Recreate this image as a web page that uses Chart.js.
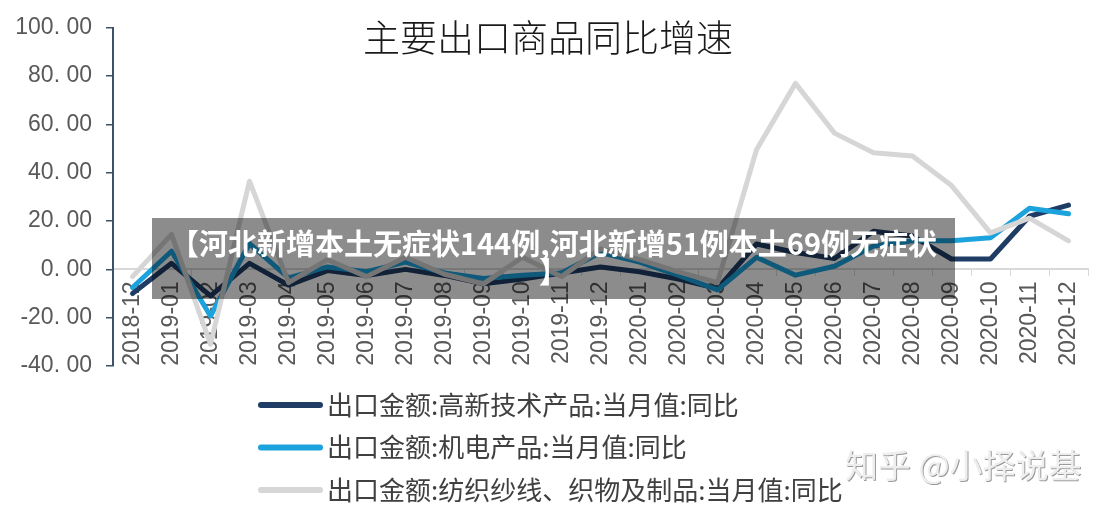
<!DOCTYPE html>
<html>
<head>
<meta charset="utf-8">
<script src="https://cdn.jsdelivr.net/npm/chart.js@4"></script>
<style>
  body { margin: 0; background: #fff; }
  #wrap { position: relative; width: 1110px; height: 518px; }
  #banner {
    position: absolute; left: 152px; top: 218px; width: 803px; height: 81px;
    box-sizing: border-box; padding-top: 10px;
    background: rgba(0, 0, 0, 0.45); color: #fff;
    font: bold 29px "Noto Sans CJK SC", sans-serif; line-height: 28px;
    text-align: center; white-space: nowrap;
  }
</style>
</head>
<body>
<div id="wrap">
  <canvas id="exportChart" width="1110" height="518"></canvas>
  <div id="banner">【河北新增本土无症状144例,河北新增51例本土69例无症状<br>】</div>
</div>
<script>
// months on the x axis
var months = ["2018-12","2019-01","2019-02","2019-03","2019-04","2019-05","2019-06","2019-07",
  "2019-08","2019-09","2019-10","2019-11","2019-12","2020-01","2020-02","2020-03","2020-04",
  "2020-05","2020-06","2020-07","2020-08","2020-09","2020-10","2020-11","2020-12"];

// 出口金额 当月值 同比 (%)
var hiTech = [-10, 2.5, -11, 2.5, -6.5, -0.5, -2.5, 0, -2.5, -6, -4, -1.5, 1, -1, -4, -8,
  10.5, 7, 4.5, 15.8, 13.8, 4.3, 4.3, 22, 26.6];
var mechElec = [-7.5, 7.5, -19.3, 10.7, -3.5, 1, -1, 3, -1.5, -3.8, -2.4, -1.5, 7, 3, -2.5, -8.5,
  5, -2.4, 1.3, 9.7, 11.8, 11.8, 13.1, 25.3, 23];
var textiles = [-3, 14.5, -31, 36.5, -5.5, 4, -3, 5, -2, -6, 5, -3, 8.5, 4, -1, -5.5,
  49.5, 77, 56.4, 48.3, 46.9, 34.7, 15.1, 21.2, 11.8];

var seriesNames = ["出口金额:高新技术产品:当月值:同比", "出口金额:机电产品:当月值:同比",
  "出口金额:纺织纱线、织物及制品:当月值:同比"];
var yTicks = [-40, -20, 0, 20, 40, 60, 80, 100];

var titleText = "主要出口商品同比增速";
var markText = "知乎 @小择说基";

// title, legend list and watermark drawn straight on the canvas
var decor = {
  id: 'decor',
  afterDraw: function(chart) {
    var ctx = chart.ctx;
    ctx.save();
    ctx.textBaseline = 'middle';

    ctx.font = '300 37px "Noto Sans CJK SC"';
    ctx.fillStyle = '#1a1a1a';
    ctx.textAlign = 'center';
    ctx.fillText(titleText, 548, 38);

    ctx.textAlign = 'left';
    ctx.font = '26px "Noto Sans CJK SC"';
    chart.data.datasets.forEach(function(ds, i) {
      var y = 405 + i * 42.5;
      ctx.strokeStyle = ds.borderColor;
      ctx.lineWidth = 6;
      ctx.lineCap = 'round';
      ctx.beginPath();
      ctx.moveTo(261, y);
      ctx.lineTo(320, y);
      ctx.stroke();
      ctx.fillStyle = '#404040';
      ctx.fillText(ds.label, 327, y);
    });

    ctx.font = '33px "Noto Sans CJK SC"';
    ctx.fillStyle = '#9a9a9a';
    ctx.fillText(markText, 846, 466);
    ctx.fillStyle = '#eeeeee';
    ctx.fillText(markText, 845, 465);
    ctx.restore();
  }
};

var ctx = document.getElementById("exportChart").getContext("2d");
var exportChart = new Chart(ctx, {
  type: 'line',
  data: {
    labels: months,
    datasets: [
      { label: seriesNames[0], data: hiTech, borderColor: '#1f3c64', order: 2 },
      { label: seriesNames[1], data: mechElec, borderColor: '#1ca3de', order: 1 },
      { label: seriesNames[2], data: textiles, borderColor: '#d6d6d6', order: 0 }
    ]
  },
  options: {
    responsive: false,
    animation: false,
    layout: { padding: { top: 21, right: 22, bottom: 152, left: 0 } },
    elements: {
      line: { borderWidth: 5, tension: 0, borderCapStyle: 'round', borderJoinStyle: 'round', fill: false },
      point: { radius: 0, hoverRadius: 0 }
    },
    plugins: {
      legend: { display: false },
      title: { display: false },
      tooltip: { enabled: false }
    },
    scales: {
      x: {
        position: { y: 0 },
        offset: true,
        grid: { drawOnChartArea: false, tickLength: 6, tickColor: '#d9d9d9', offset: true },
        border: { color: '#d9d9d9', width: 2 },
        ticks: {
          autoSkip: false, maxRotation: 90, minRotation: 90, padding: 6,
          color: '#595959', font: { family: 'Liberation Sans', size: 23 }
        }
      },
      y: {
        min: yTicks[0],
        max: yTicks[yTicks.length - 1],
        afterFit: function(scale) { scale.width = 113; },
        afterBuildTicks: function(scale) {
          scale.ticks = yTicks.map(function(v) { return { value: v }; });
        },
        grid: { drawOnChartArea: false, tickLength: 7, tickColor: '#3b5268', lineWidth: 1.5 },
        border: { color: '#3b5268', width: 2 },
        ticks: {
          padding: 14, color: '#595959', font: { family: 'Liberation Sans', size: 23 },
          callback: function(v) { return v.toFixed(2).replace('.', '. '); }
        }
      }
    }
  },
  plugins: [decor]
});
</script>
</body>
</html>
